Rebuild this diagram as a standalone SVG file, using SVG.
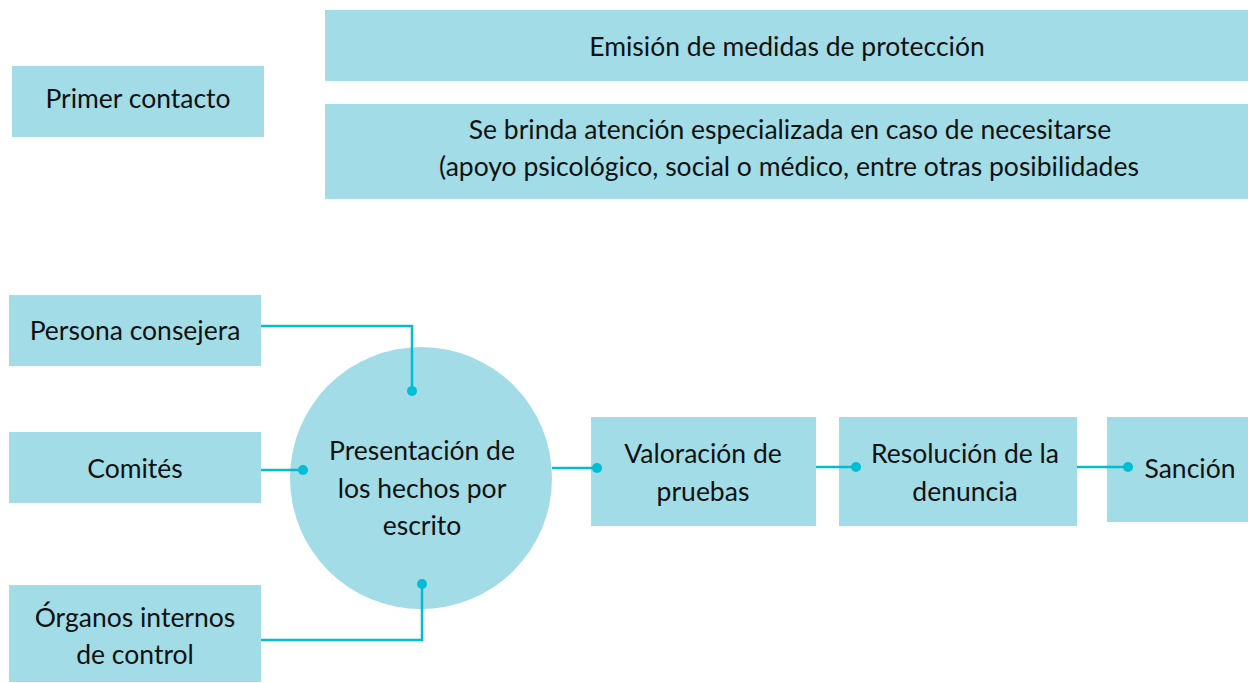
<svg xmlns="http://www.w3.org/2000/svg" width="1248" height="683" viewBox="0 0 1248 683">
<style>
.box{fill:#a2dce7}
.t{font-family:Lato,"Open Sans",sans-serif;font-size:26.5px;fill:#111;text-anchor:middle}
.c{fill:none;stroke:#00bcd4;stroke-width:2.5}
.d{fill:#00bcd4}
</style>
<rect width="1248" height="683" fill="#fff"/>
<g id="primer"><rect class="box" x="12" y="66" width="252" height="71"/><text class="t" x="138" y="108">Primer contacto</text></g>
<g id="emision"><rect class="box" x="325" y="10" width="923" height="71"/><text class="t" x="787" y="56">Emisión de medidas de protección</text></g>
<g id="brinda"><rect class="box" x="325" y="104" width="923" height="95"/><text class="t" x="790" y="139">Se brinda atención especializada en caso de necesitarse</text><text class="t" x="789" y="176">(apoyo psicológico, social o médico, entre otras posibilidades</text></g>
<g id="persona"><rect class="box" x="9" y="295" width="252" height="71"/><text class="t" x="135" y="340">Persona consejera</text></g>
<g id="comites"><rect class="box" x="9" y="432" width="252" height="71"/><text class="t" x="135" y="478">Comités</text></g>
<g id="organos"><rect class="box" x="9" y="585" width="252" height="97"/><text class="t" x="135" y="627">Órganos internos</text><text class="t" x="135" y="664">de control</text></g>
<g id="presentacion"><circle class="box" cx="421" cy="478" r="131"/><text class="t" x="422" y="460">Presentación de</text><text class="t" x="422" y="498">los hechos por</text><text class="t" x="422" y="535">escrito</text></g>
<g id="valoracion"><rect class="box" x="591" y="417" width="225" height="109"/><text class="t" x="703" y="463">Valoración de</text><text class="t" x="703" y="501">pruebas</text></g>
<g id="resolucion"><rect class="box" x="839" y="417" width="238" height="109"/><text class="t" x="965" y="463">Resolución de la</text><text class="t" x="965" y="501">denuncia</text></g>
<g id="sancion"><rect class="box" x="1107" y="417" width="141" height="105"/><text class="t" x="1190" y="478">Sanción</text></g>
<g id="connectors">
<polyline class="c" points="261,326 412,326 412,391"/><circle class="d" cx="412" cy="391" r="5"/>
<polyline class="c" points="261,470 303,470"/><circle class="d" cx="303" cy="470" r="5"/>
<polyline class="c" points="261,640 422,640 422,584"/><circle class="d" cx="422" cy="584" r="5"/>
<polyline class="c" points="552,468 597,468"/><circle class="d" cx="597" cy="468" r="5"/>
<polyline class="c" points="816,467 856,467"/><circle class="d" cx="856" cy="467" r="5"/>
<polyline class="c" points="1077,467 1128,467"/><circle class="d" cx="1128" cy="467" r="5"/>
</g>
</svg>
